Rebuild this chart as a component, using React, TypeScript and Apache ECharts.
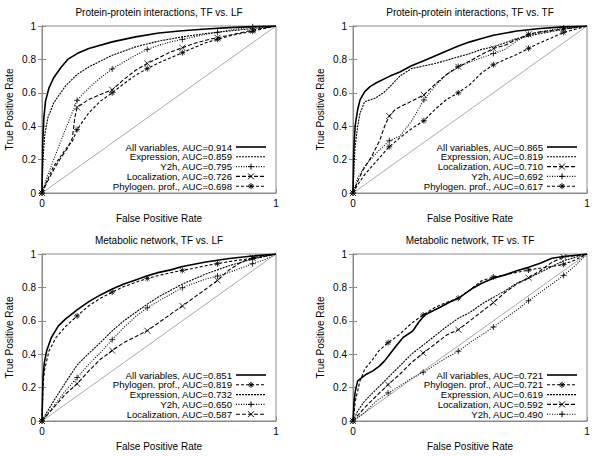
import React, { useEffect, useRef } from 'react';
import * as echarts from 'echarts';

type Pt = [number, number];

// ---------- texts ----------
const panelTitles = [
  'Protein-protein interactions, TF vs. LF',
  'Protein-protein interactions, TF vs. TF',
  'Metabolic network, TF vs. LF',
  'Metabolic network, TF vs. TF',
];
const xAxisName = 'False Positive Rate';
const yAxisName = 'True Positive Rate';
const xTicks = [0, 1];
const yTicks = [0, 0.2, 0.4, 0.6, 0.8, 1];

const kindNames: Record<string, string> = {
  all: 'All variables',
  expr: 'Expression',
  y2h: 'Y2h',
  loc: 'Localization',
  phy: 'Phylogen. prof.',
};

// ---------- legend order and AUC values ----------
const p1Order = ['all', 'expr', 'y2h', 'loc', 'phy'];
const p1Auc = [0.914, 0.859, 0.795, 0.726, 0.698];
const p2Order = ['all', 'expr', 'loc', 'y2h', 'phy'];
const p2Auc = [0.865, 0.819, 0.71, 0.692, 0.617];
const p3Order = ['all', 'phy', 'expr', 'y2h', 'loc'];
const p3Auc = [0.851, 0.819, 0.732, 0.65, 0.587];
const p4Order = ['all', 'phy', 'expr', 'loc', 'y2h'];
const p4Auc = [0.721, 0.721, 0.619, 0.592, 0.49];

// ---------- Panel 1: PPI, TF vs LF ----------
const p1All: Pt[] = [[0,0],[0.003,0.3],[0.008,0.45],[0.015,0.55],[0.03,0.63],[0.05,0.69],[0.08,0.75],[0.11,0.8],[0.15,0.835],[0.2,0.865],[0.3,0.905],[0.4,0.935],[0.5,0.958],[0.6,0.972],[0.7,0.982],[0.8,0.99],[0.9,0.996],[1,1]];
const p1Expr: Pt[] = [[0,0],[0.004,0.2],[0.012,0.35],[0.025,0.45],[0.05,0.54],[0.08,0.6],[0.1,0.64],[0.15,0.71],[0.2,0.755],[0.3,0.825],[0.35,0.85],[0.4,0.875],[0.5,0.91],[0.6,0.935],[0.7,0.955],[0.8,0.97],[0.9,0.985],[1,1]];
const p1Y2h: Pt[] = [[0.02,0.09],[0.05,0.2],[0.1,0.38],[0.2,0.63],[0.25,0.69],[0.35,0.785],[0.4,0.825],[0.5,0.885],[0.55,0.905],[0.65,0.935],[0.7,0.95],[0.8,0.975],[0.85,0.985],[0.95,1],[1,1]];
const p1Y2hMarks: Pt[] = [[0,0],[0.15,0.555],[0.3,0.743],[0.45,0.86],[0.6,0.92],[0.75,0.962],[0.9,0.995]];
const p1Loc: Pt[] = [[0.02,0.06],[0.05,0.14],[0.08,0.21],[0.11,0.27],[0.13,0.33],[0.14,0.45],[0.2,0.56],[0.25,0.59],[0.35,0.68],[0.4,0.735],[0.5,0.81],[0.55,0.845],[0.65,0.895],[0.7,0.915],[0.8,0.945],[0.85,0.96],[0.95,0.988],[1,1]];
const p1LocMarks: Pt[] = [[0,0],[0.15,0.513],[0.3,0.618],[0.45,0.776],[0.6,0.87],[0.75,0.93],[0.9,0.975]];
const p1Phy: Pt[] = [[0.02,0.07],[0.05,0.16],[0.08,0.22],[0.11,0.28],[0.13,0.31],[0.2,0.48],[0.25,0.55],[0.35,0.655],[0.4,0.705],[0.5,0.78],[0.55,0.81],[0.65,0.87],[0.7,0.9],[0.8,0.94],[0.85,0.955],[0.95,0.985],[1,1]];
const p1PhyMarks: Pt[] = [[0,0],[0.15,0.38],[0.3,0.6],[0.45,0.745],[0.6,0.84],[0.75,0.92],[0.9,0.968]];

// ---------- Panel 2: PPI, TF vs TF ----------
const p2All: Pt[] = [[0,0],[0.003,0.25],[0.009,0.4],[0.02,0.5],[0.03,0.557],[0.05,0.607],[0.073,0.637],[0.1,0.66],[0.158,0.7],[0.2,0.725],[0.25,0.762],[0.3,0.79],[0.35,0.82],[0.4,0.85],[0.45,0.88],[0.5,0.905],[0.55,0.925],[0.6,0.945],[0.7,0.97],[0.8,0.985],[0.9,0.995],[1,1]];
const p2Expr: Pt[] = [[0,0],[0.004,0.15],[0.009,0.277],[0.02,0.4],[0.03,0.477],[0.05,0.547],[0.094,0.567],[0.13,0.6],[0.158,0.637],[0.2,0.7],[0.25,0.745],[0.3,0.76],[0.35,0.775],[0.4,0.795],[0.45,0.815],[0.5,0.835],[0.55,0.86],[0.6,0.875],[0.7,0.925],[0.8,0.955],[0.9,0.98],[1,1]];
const p2Loc: Pt[] = [[0.02,0.07],[0.044,0.14],[0.08,0.22],[0.115,0.317],[0.135,0.4],[0.18,0.5],[0.2,0.515],[0.25,0.55],[0.35,0.65],[0.4,0.71],[0.5,0.79],[0.55,0.83],[0.65,0.885],[0.7,0.92],[0.8,0.965],[1,1]];
const p2LocMarks: Pt[] = [[0,0],[0.155,0.461],[0.303,0.587],[0.45,0.756],[0.6,0.865],[0.75,0.95],[0.9,0.982]];
const p2Y2h: Pt[] = [[0.02,0.09],[0.05,0.16],[0.1,0.24],[0.2,0.34],[0.25,0.43],[0.35,0.64],[0.4,0.71],[0.5,0.785],[0.55,0.81],[0.65,0.86],[0.7,0.91],[0.8,0.965],[1,1]];
const p2Y2hMarks: Pt[] = [[0,0],[0.155,0.313],[0.303,0.557],[0.45,0.758],[0.6,0.835],[0.75,0.95],[0.9,0.988]];
const p2Phy: Pt[] = [[0.02,0.05],[0.05,0.11],[0.1,0.19],[0.2,0.33],[0.25,0.385],[0.35,0.5],[0.4,0.56],[0.5,0.65],[0.55,0.72],[0.65,0.8],[0.7,0.83],[0.8,0.9],[0.85,0.93],[0.95,0.98],[1,1]];
const p2PhyMarks: Pt[] = [[0,0],[0.155,0.277],[0.303,0.433],[0.45,0.6],[0.6,0.768],[0.75,0.866],[0.9,0.962]];

// ---------- Panel 3: Metabolic, TF vs LF ----------
const p3All: Pt[] = [[0,0],[0.004,0.25],[0.01,0.35],[0.02,0.42],[0.04,0.5],[0.07,0.57],[0.1,0.61],[0.15,0.665],[0.2,0.715],[0.25,0.755],[0.3,0.79],[0.35,0.82],[0.4,0.845],[0.45,0.87],[0.5,0.89],[0.55,0.905],[0.6,0.925],[0.7,0.952],[0.8,0.973],[0.9,0.988],[1,1]];
const p3Phy: Pt[] = [[0.004,0.2],[0.01,0.3],[0.03,0.42],[0.06,0.5],[0.1,0.565],[0.2,0.69],[0.25,0.735],[0.35,0.805],[0.4,0.83],[0.5,0.872],[0.55,0.888],[0.65,0.915],[0.7,0.93],[0.8,0.955],[0.85,0.965],[0.95,0.985],[1,1]];
const p3PhyMarks: Pt[] = [[0,0],[0.15,0.629],[0.3,0.772],[0.45,0.854],[0.6,0.902],[0.75,0.942],[0.9,0.974]];
const p3Expr: Pt[] = [[0,0],[0.02,0.05],[0.05,0.12],[0.1,0.23],[0.15,0.335],[0.2,0.405],[0.25,0.47],[0.3,0.54],[0.35,0.6],[0.4,0.65],[0.45,0.7],[0.5,0.745],[0.6,0.82],[0.7,0.88],[0.75,0.905],[0.8,0.93],[0.9,0.97],[1,1]];
const p3Y2h: Pt[] = [[0.05,0.09],[0.1,0.18],[0.2,0.34],[0.25,0.41],[0.35,0.56],[0.4,0.625],[0.5,0.72],[0.55,0.76],[0.65,0.825],[0.7,0.85],[0.8,0.89],[0.85,0.915],[0.95,0.965],[1,1]];
const p3Y2hMarks: Pt[] = [[0,0],[0.15,0.26],[0.3,0.487],[0.45,0.678],[0.6,0.798],[0.75,0.868],[0.9,0.942]];
const p3Loc: Pt[] = [[0.05,0.08],[0.1,0.16],[0.2,0.3],[0.25,0.37],[0.35,0.47],[0.4,0.505],[0.5,0.59],[0.55,0.64],[0.65,0.74],[0.7,0.79],[0.8,0.905],[0.85,0.95],[0.95,0.99],[1,1]];
const p3LocMarks: Pt[] = [[0,0],[0.15,0.223],[0.3,0.422],[0.45,0.541],[0.6,0.689],[0.75,0.842],[0.9,0.978]];

// ---------- Panel 4: Metabolic, TF vs TF ----------
const p4All: Pt[] = [[0,0],[0.005,0.12],[0.01,0.18],[0.02,0.24],[0.057,0.28],[0.085,0.3],[0.114,0.33],[0.135,0.36],[0.157,0.4],[0.185,0.45],[0.214,0.5],[0.256,0.54],[0.28,0.59],[0.306,0.635],[0.37,0.68],[0.41,0.71],[0.456,0.74],[0.506,0.79],[0.55,0.825],[0.6,0.855],[0.65,0.875],[0.7,0.9],[0.75,0.92],[0.8,0.945],[0.85,0.975],[0.9,0.985],[1,1]];
const p4Phy: Pt[] = [[0.01,0.12],[0.03,0.24],[0.05,0.31],[0.085,0.37],[0.11,0.42],[0.2,0.52],[0.25,0.585],[0.35,0.68],[0.4,0.71],[0.5,0.785],[0.55,0.84],[0.65,0.875],[0.7,0.89],[0.8,0.915],[0.85,0.925],[0.95,0.965],[1,1]];
const p4PhyMarks: Pt[] = [[0,0],[0.15,0.469],[0.3,0.635],[0.45,0.735],[0.6,0.862],[0.75,0.904],[0.9,0.938]];
const p4Expr: Pt[] = [[0,0],[0.02,0.06],[0.05,0.12],[0.1,0.19],[0.15,0.26],[0.2,0.33],[0.25,0.4],[0.3,0.455],[0.35,0.51],[0.4,0.565],[0.45,0.615],[0.5,0.65],[0.55,0.7],[0.6,0.74],[0.65,0.78],[0.7,0.825],[0.75,0.855],[0.8,0.89],[0.9,0.96],[1,1]];
const p4Loc: Pt[] = [[0.05,0.08],[0.1,0.15],[0.2,0.28],[0.25,0.35],[0.35,0.46],[0.4,0.515],[0.5,0.6],[0.55,0.655],[0.65,0.77],[0.7,0.82],[0.8,0.9],[0.85,0.95],[0.95,0.99],[1,1]];
const p4LocMarks: Pt[] = [[0,0],[0.15,0.218],[0.3,0.407],[0.45,0.547],[0.6,0.709],[0.75,0.858],[0.9,0.982]];
const p4Y2h: Pt[] = [[0.05,0.05],[0.1,0.12],[0.2,0.21],[0.25,0.255],[0.35,0.335],[0.4,0.38],[0.5,0.47],[0.55,0.515],[0.65,0.615],[0.7,0.665],[0.8,0.77],[0.85,0.82],[0.95,0.93],[1,1]];
const p4Y2hMarks: Pt[] = [[0,0],[0.15,0.168],[0.3,0.292],[0.45,0.418],[0.6,0.563],[0.75,0.72],[0.9,0.872]];

const diagonal: Pt[] = [[0, 0], [1, 1]];

// ---------- assembly ----------
type Curve = { line: Pt[]; marks?: Pt[] };
const panelCurves: Record<string, Curve>[] = [
  { all: { line: p1All }, expr: { line: p1Expr }, y2h: { line: p1Y2h, marks: p1Y2hMarks }, loc: { line: p1Loc, marks: p1LocMarks }, phy: { line: p1Phy, marks: p1PhyMarks } },
  { all: { line: p2All }, expr: { line: p2Expr }, y2h: { line: p2Y2h, marks: p2Y2hMarks }, loc: { line: p2Loc, marks: p2LocMarks }, phy: { line: p2Phy, marks: p2PhyMarks } },
  { all: { line: p3All }, expr: { line: p3Expr }, y2h: { line: p3Y2h, marks: p3Y2hMarks }, loc: { line: p3Loc, marks: p3LocMarks }, phy: { line: p3Phy, marks: p3PhyMarks } },
  { all: { line: p4All }, expr: { line: p4Expr }, y2h: { line: p4Y2h, marks: p4Y2hMarks }, loc: { line: p4Loc, marks: p4LocMarks }, phy: { line: p4Phy, marks: p4PhyMarks } },
];
const panelOrders = [p1Order, p2Order, p3Order, p4Order];
const panelAucs = [p1Auc, p2Auc, p3Auc, p4Auc];

const FONT = '"Liberation Sans", Arial, Helvetica, sans-serif';
const FRAME = '#8a8a8a';
const GRID_W = 234;
const GRID_H = 167;
const gridPos = [
  { left: 42, top: 26 },
  { left: 353, top: 26 },
  { left: 42, top: 254 },
  { left: 353, top: 254 },
];

const kindStyle: Record<string, { width: number; dash: any; marker: string | null }> = {
  all: { width: 1.6, dash: 'solid', marker: null },
  expr: { width: 1.1, dash: [2, 1], marker: null },
  y2h: { width: 1.1, dash: [1, 1.5], marker: 'plus' },
  loc: { width: 1.1, dash: [4, 2], marker: 'cross' },
  phy: { width: 1.1, dash: [3, 2], marker: 'star' },
};
const markerPaths: Record<string, string> = {
  plus: 'path://M0,5L10,5M5,0L5,10',
  cross: 'path://M0,0L10,10M10,0L0,10',
  star: 'path://M0,5L10,5M5,0L5,10M1.5,1.5L8.5,8.5M8.5,1.5L1.5,8.5',
};
const MARK_SIZE = 6;

function mergeSorted(a: Pt[], b?: Pt[]): Pt[] {
  const all = b ? a.concat(b) : a.slice();
  return all.slice().sort((p, q) => p[0] - q[0] || p[1] - q[1]);
}

function markerLines(kind: string, cx: number, cy: number, s: number): any[] {
  const h = s / 2;
  const segs: number[][] = [];
  if (kind === 'plus' || kind === 'star') {
    segs.push([cx - h, cy, cx + h, cy], [cx, cy - h, cx, cy + h]);
  }
  if (kind === 'cross' || kind === 'star') {
    const d = kind === 'star' ? h * 0.7 : h;
    segs.push([cx - d, cy - d, cx + d, cy + d], [cx - d, cy + d, cx + d, cy - d]);
  }
  return segs.map(([x1, y1, x2, y2]) => ({
    type: 'line',
    silent: true,
    z: 10,
    shape: { x1, y1, x2, y2 },
    style: { stroke: '#000', lineWidth: 1 },
  }));
}

function buildOption() {
  const grid: any[] = [];
  const xAxis: any[] = [];
  const yAxis: any[] = [];
  const series: any[] = [];
  const graphic: any[] = [];

  gridPos.forEach((g, i) => {
    grid.push({
      left: g.left,
      top: g.top,
      width: GRID_W,
      height: GRID_H,
      show: true,
      borderColor: FRAME,
      borderWidth: 1,
      backgroundColor: 'transparent',
    });
    xAxis.push({
      gridIndex: i,
      type: 'value',
      min: xTicks[0],
      max: xTicks[xTicks.length - 1],
      interval: xTicks[1] - xTicks[0],
      axisLine: { show: true, onZero: false, lineStyle: { color: FRAME, width: 1 } },
      axisTick: { show: true, inside: true, length: 4, lineStyle: { color: FRAME } },
      splitLine: { show: false },
      axisLabel: { fontSize: 10, color: '#000', margin: 5, fontFamily: FONT },
      name: xAxisName,
      nameLocation: 'middle',
      nameGap: 20,
      nameTextStyle: { fontSize: 10, color: '#000', fontFamily: FONT },
    });
    yAxis.push({
      gridIndex: i,
      type: 'value',
      position: 'left',
      min: yTicks[0],
      max: yTicks[yTicks.length - 1],
      interval: yTicks[1] - yTicks[0],
      axisLine: { show: true, onZero: false, lineStyle: { color: FRAME, width: 1 } },
      axisTick: { show: true, inside: true, length: 4, lineStyle: { color: FRAME } },
      splitLine: { show: false },
      axisLabel: { fontSize: 10, color: '#000', margin: 6, fontFamily: FONT },
      name: yAxisName,
      nameLocation: 'middle',
      nameGap: 28,
      nameTextStyle: { fontSize: 10, color: '#000', fontFamily: FONT },
    });
    yAxis.push({
      gridIndex: i,
      type: 'value',
      position: 'right',
      min: yTicks[0],
      max: yTicks[yTicks.length - 1],
      interval: yTicks[1] - yTicks[0],
      axisLine: { show: false },
      axisTick: { show: true, inside: true, length: 4, lineStyle: { color: FRAME } },
      splitLine: { show: false },
      axisLabel: { show: false },
    });

    // diagonal
    series.push({
      type: 'line',
      xAxisIndex: i,
      yAxisIndex: i * 2,
      data: diagonal,
      symbol: 'none',
      silent: true,
      z: 1,
      lineStyle: { color: '#a8a8a8', width: 1 },
    });

    const curves = panelCurves[i];
    const order = panelOrders[i];
    const aucs = panelAucs[i];
    order.slice().reverse().forEach((kind) => {
      const c = curves[kind];
      const st = kindStyle[kind];
      series.push({
        type: 'line',
        name: kindNames[kind],
        xAxisIndex: i,
        yAxisIndex: i * 2,
        data: mergeSorted(c.line, c.marks),
        symbol: 'none',
        silent: true,
        z: 2,
        lineStyle: { color: '#000', width: st.width, type: st.dash },
      });
      if (c.marks && st.marker) {
        series.push({
          type: 'scatter',
          xAxisIndex: i,
          yAxisIndex: i * 2,
          data: c.marks,
          symbol: markerPaths[st.marker],
          symbolSize: MARK_SIZE,
          silent: true,
          z: 3,
          itemStyle: { color: 'none', borderColor: '#000', borderWidth: 1 },
        });
      }
    });

    // title
    graphic.push({
      type: 'text',
      silent: true,
      x: g.left + GRID_W / 2,
      y: g.top - 14,
      style: {
        text: panelTitles[i],
        align: 'center',
        verticalAlign: 'middle',
        fontSize: 10,
        fontFamily: FONT,
        fill: '#000',
      },
    });

    // legend
    const right = g.left + GRID_W;
    order.forEach((kind, r) => {
      const y = g.top + 121 + r * 9.8;
      const st = kindStyle[kind];
      graphic.push({
        type: 'text',
        silent: true,
        x: right - 44,
        y,
        style: {
          text: kindNames[kind] + ', AUC=' + aucs[r].toFixed(3),
          align: 'right',
          verticalAlign: 'middle',
          fontSize: 9.6,
          fontFamily: FONT,
          fill: '#000',
        },
      });
      graphic.push({
        type: 'line',
        silent: true,
        shape: { x1: right - 40, y1: y, x2: right - 10, y2: y },
        style: {
          stroke: '#000',
          lineWidth: st.width,
          lineDash: Array.isArray(st.dash) ? st.dash : null,
        },
      });
      if (st.marker) {
        markerLines(st.marker, right - 25, y, MARK_SIZE).forEach((el) => graphic.push(el));
      }
    });
  });

  return {
    animation: false,
    backgroundColor: '#fff',
    textStyle: { fontFamily: FONT },
    grid,
    xAxis,
    yAxis,
    series,
    graphic,
  };
}

export default function App() {
  const ref = useRef<HTMLDivElement>(null);
  useEffect(() => {
    if (!ref.current) return;
    const chart = echarts.init(ref.current, null, { renderer: 'svg' });
    chart.setOption(buildOption() as any);
    return () => chart.dispose();
  }, []);
  return (
    <div
      ref={ref}
      style={{ position: 'absolute', left: 0, top: 0, width: 600, height: 456, background: '#fff' }}
    />
  );
}
